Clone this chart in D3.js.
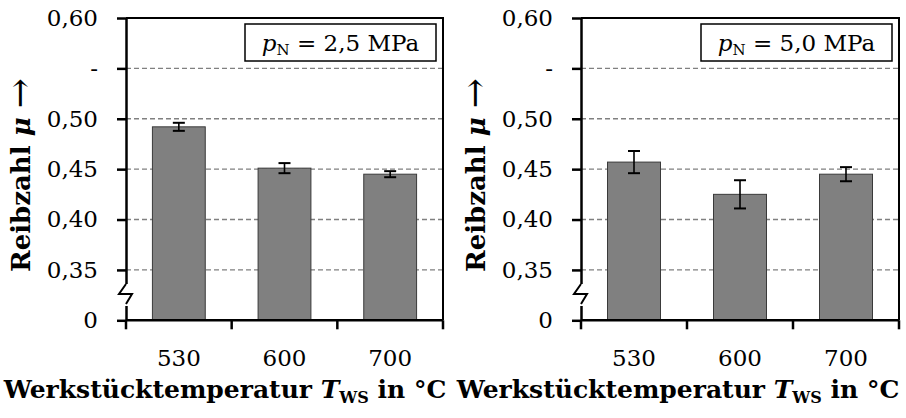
<!DOCTYPE html>
<html>
<head>
<meta charset="utf-8">
<script src="https://cdn.jsdelivr.net/npm/d3@7"></script>
<style>
  body { margin: 0; background: #fff; }
  svg { display: block; font-family: "DejaVu Serif", "Liberation Serif", serif; }
</style>
</head>
<body>
<svg id="chart" width="906" height="418"></svg>
<script>
const temps = ["530", "600", "700"];
const mu25 = [0.492, 0.451, 0.445];
const err25 = [0.004, 0.005, 0.003];
const mu50 = [0.457, 0.425, 0.445];
const err50 = [0.011, 0.014, 0.007];
const yTicks = [0.30, 0.35, 0.40, 0.45, 0.50, 0.55, 0.60];
const yTickLabels = ["0", "0,35", "0,40", "0,45", "0,50", "-", "0,60"];
const pressures = ["2,5", "5,0"];

const svg = d3.select("#chart");
const plotTop = 18, plotBottom = 320.3;
const font = "DejaVu Serif";

function drawPanel(left, right, values, errs, pressure, titleX) {
  const g = svg.append("g");

  const x = d3.scaleBand().domain(temps).range([left, right])
    .paddingInner(0.5).paddingOuter(0.25);
  const y = d3.scaleLinear().domain([0.30, 0.60]).range([plotBottom, plotTop]);

  // dashed grid
  g.selectAll(".grid").data(yTicks.slice(1, -1)).enter().append("line")
    .attr("x1", left).attr("x2", right)
    .attr("y1", d => y(d)).attr("y2", d => y(d))
    .attr("stroke", "#808080").attr("stroke-width", 1.4)
    .attr("stroke-dasharray", "5,3");

  // bars
  g.selectAll(".bar").data(values).enter().append("rect")
    .attr("x", (d, i) => x(temps[i]))
    .attr("y", d => y(d))
    .attr("width", x.bandwidth())
    .attr("height", d => y(0.30) - y(d))
    .attr("fill", "#808080").attr("stroke", "#3a3a3a").attr("stroke-width", 1);

  // error bars
  const eb = g.selectAll(".err").data(values).enter().append("g");
  const cx = i => x(temps[i]) + x.bandwidth() / 2;
  eb.append("line")
    .attr("x1", (d, i) => cx(i)).attr("x2", (d, i) => cx(i))
    .attr("y1", (d, i) => y(d - errs[i])).attr("y2", (d, i) => y(d + errs[i]))
    .attr("stroke", "#000").attr("stroke-width", 1.6);
  [-1, 1].forEach(s => {
    eb.append("line")
      .attr("x1", (d, i) => cx(i) - 6).attr("x2", (d, i) => cx(i) + 6)
      .attr("y1", (d, i) => y(d + s * errs[i])).attr("y2", (d, i) => y(d + s * errs[i]))
      .attr("stroke", "#000").attr("stroke-width", 2);
  });

  // frame: top and right
  g.append("path")
    .attr("d", `M${left},${plotTop}H${right}V${plotBottom}`)
    .attr("fill", "none").attr("stroke", "#000").attr("stroke-width", 2);

  // baseline
  g.append("line")
    .attr("x1", left).attr("x2", right).attr("y1", plotBottom).attr("y2", plotBottom)
    .attr("stroke", "#000").attr("stroke-width", 2.5);

  // boundary ticks below the baseline
  const bounds = d3.range(temps.length + 1).map(i => left + i * x.step());
  g.selectAll(".xt").data(bounds).enter().append("line")
    .attr("x1", d => d).attr("x2", d => d)
    .attr("y1", plotBottom).attr("y2", plotBottom + 9)
    .attr("stroke", "#000").attr("stroke-width", 2.5);

  // x labels
  const xa = g.append("g").attr("transform", `translate(0,${plotBottom})`)
    .call(d3.axisBottom(x).tickSize(0).tickPadding(29));
  xa.select(".domain").remove();
  xa.selectAll("text").attr("font-size", 23).attr("fill", "#000")
    .attr("font-family", font);

  // y axis
  const ya = g.append("g").attr("transform", `translate(${left},0)`)
    .call(d3.axisLeft(y).tickValues(yTicks).tickFormat((d, i) => yTickLabels[i])
      .tickSizeInner(9).tickSizeOuter(0).tickPadding(19));
  ya.select(".domain").attr("stroke-width", 2.5);
  ya.selectAll(".tick line").attr("stroke-width", 2.5);
  ya.selectAll("text").attr("font-size", 23).attr("fill", "#000")
    .attr("font-family", font);

  // axis break zigzag
  const yb = 295;
  g.append("rect").attr("x", left - 2).attr("y", yb - 11).attr("width", 4).attr("height", 22)
    .attr("fill", "#fff");
  g.append("path")
    .attr("d", `M${left},${yb - 11}L${left - 7},${yb - 1}L${left + 6},${yb - 1}L${left},${yb + 9}`)
    .attr("fill", "none").attr("stroke", "#000").attr("stroke-width", 2);

  // legend box
  const bw = 191, bh = 37, bx = right - 7 - bw, by = 24;
  g.append("rect").attr("x", bx).attr("y", by).attr("width", bw).attr("height", bh)
    .attr("fill", "#fff").attr("stroke", "#000").attr("stroke-width", 1.5);
  const lt = g.append("text").attr("x", bx + bw / 2).attr("y", by + 27)
    .attr("text-anchor", "middle").attr("font-size", 23);
  lt.append("tspan").attr("font-style", "italic").text("p");
  lt.append("tspan").attr("font-size", 15).attr("dy", 4).text("N");
  lt.append("tspan").attr("dy", -4).text(" = " + pressure + " MPa");

  // y title
  const yt = g.append("text")
    .attr("transform", `translate(${left - 96},${(60 + 290) / 2}) rotate(-90)`)
    .attr("text-anchor", "middle").attr("font-size", 26).attr("font-weight", "bold");
  yt.append("tspan").text("Reibzahl ");
  yt.append("tspan").attr("font-style", "italic").text("μ");
  yt.append("tspan").text(" ");
  yt.append("tspan").attr("font-size", 36).attr("font-weight", "normal").attr("dy", 2).text("→");

  // x title
  const xt = g.append("text").attr("x", titleX).attr("y", 398)
    .attr("text-anchor", "middle").attr("font-size", 25).attr("font-weight", "bold");
  xt.append("tspan").text("Werkstücktemperatur ");
  xt.append("tspan").attr("font-style", "italic").text("T");
  xt.append("tspan").attr("font-size", 16).attr("dy", 5).text("WS");
  xt.append("tspan").attr("dy", -5).text(" in °C");
}

drawPanel(126, 443, mu25, err25, pressures[0], 225);
drawPanel(581, 899, mu50, err50, pressures[1], 678);
</script>
</body>
</html>
